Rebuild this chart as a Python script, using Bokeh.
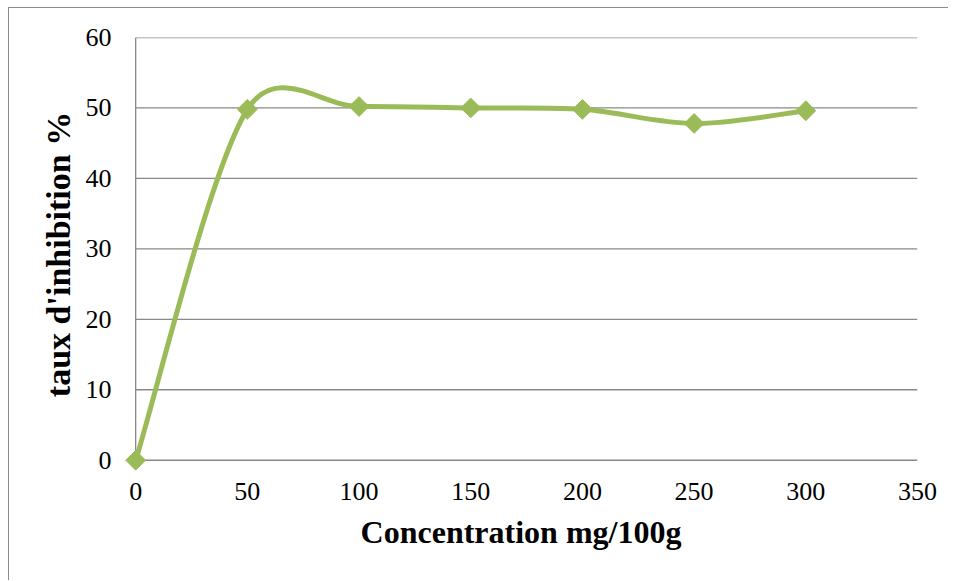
import math
from bokeh.plotting import figure
from bokeh.models import Range1d, FixedTicker
from bokeh.embed import file_html
from bokeh.resources import INLINE

# ---- data ----
concentration = [0, 50, 100, 150, 200, 250, 300]
inhibition = [0.0, 49.8, 50.2, 50.0, 49.8, 47.8, 49.6]
x_ticks = [0, 50, 100, 150, 200, 250, 300, 350]
y_ticks = [0, 10, 20, 30, 40, 50, 60]
x_label = "Concentration mg/100g"
y_label = "taux d'inhibition %"

GREEN = "#9BBB59"
GRID = "#898989"
FONT = "Liberation Serif"

W, H = 940, 573
ML, MR, MT, MB = 115, 32, 29, 110
X0, X1 = -5, 350
Y0, Y1 = -1.6, 60

p = figure(width=W, height=H, output_backend="svg", toolbar_location=None,
           x_range=Range1d(X0, X1), y_range=Range1d(Y0, Y1),
           min_border_left=ML, min_border_right=MR,
           min_border_top=MT, min_border_bottom=MB,
           styles={"border-top": "1px solid #8c8c8c", "border-left": "1px solid #8c8c8c",
                   "margin-left": "8px", "margin-top": "7px"})
p.outline_line_color = None
p.xgrid.visible = False
p.ygrid.visible = False

# gridlines (from 0 to 350) and vertical axis line at x=0
p.segment(x0=[0] * len(y_ticks), x1=[x_ticks[-1]] * len(y_ticks), y0=y_ticks, y1=y_ticks,
          line_color=GRID, line_width=1.3)
p.segment(x0=[0], x1=[0], y0=[0], y1=[y_ticks[-1]], line_color=GRID, line_width=1.3)

# smooth curve (Excel-like Bezier smoothing, computed in screen space)
fw = W - ML - MR
fh = H - MT - MB
sx = fw / (X1 - X0)
sy = fh / (Y1 - Y0)
P = [(x * sx, y * sy) for x, y in zip(concentration, inhibition)]
n = len(P)
bx0, by0, bx1, by1, cx0, cy0, cx1, cy1 = ([] for _ in range(8))


def dist(a, b):
    return math.hypot(a[0] - b[0], a[1] - b[1])


for i in range(n - 1):
    p0 = P[i - 1] if i > 0 else P[i]
    p1 = P[i]
    p2 = P[i + 1]
    p3 = P[i + 2] if i + 2 < n else P[i + 1]
    d12 = dist(p1, p2)
    d02 = dist(p0, p2)
    d13 = dist(p1, p3)
    f0 = 1 / 6 if d02 / 6 < d12 / 2 else d12 / (2 * d02)
    f3 = 1 / 6 if d13 / 6 < d12 / 2 else d12 / (2 * d13)
    c1 = (p1[0] + f0 * (p2[0] - p0[0]), p1[1] + f0 * (p2[1] - p0[1]))
    c2 = (p2[0] - f3 * (p3[0] - p1[0]), p2[1] - f3 * (p3[1] - p1[1]))
    bx0.append(concentration[i]); by0.append(inhibition[i])
    bx1.append(concentration[i + 1]); by1.append(inhibition[i + 1])
    cx0.append(c1[0] / sx); cy0.append(c1[1] / sy)
    cx1.append(c2[0] / sx); cy1.append(c2[1] / sy)

p.bezier(x0=bx0, y0=by0, x1=bx1, y1=by1, cx0=cx0, cy0=cy0, cx1=cx1, cy1=cy1,
         line_color=GREEN, line_width=5, line_cap="round")
p.scatter(concentration, inhibition, marker="square", angle=math.pi / 4, size=14,
          fill_color=GREEN, line_color=GREEN)

for ax in (p.xaxis, p.yaxis):
    ax.axis_line_color = None
    ax.major_tick_line_color = None
    ax.minor_tick_line_color = None
    ax.major_label_text_font = FONT
    ax.major_label_text_font_size = "26px"
    ax.major_label_text_color = "black"
    ax.axis_label_text_font = FONT
    ax.axis_label_text_font_style = "bold"
    ax.axis_label_text_color = "black"

p.xaxis.axis_label_text_font_size = "32px"
p.yaxis.axis_label_text_font_size = "34px"
p.xaxis.ticker = FixedTicker(ticks=x_ticks)
p.yaxis.ticker = FixedTicker(ticks=y_ticks)
p.xaxis.major_label_standoff = 5
p.yaxis.major_label_standoff = 7
p.xaxis.axis_label = x_label
p.yaxis.axis_label = y_label
p.xaxis.axis_label_standoff = 11
p.yaxis.axis_label_standoff = 6

open("out.html", "w").write(file_html(p, INLINE))
